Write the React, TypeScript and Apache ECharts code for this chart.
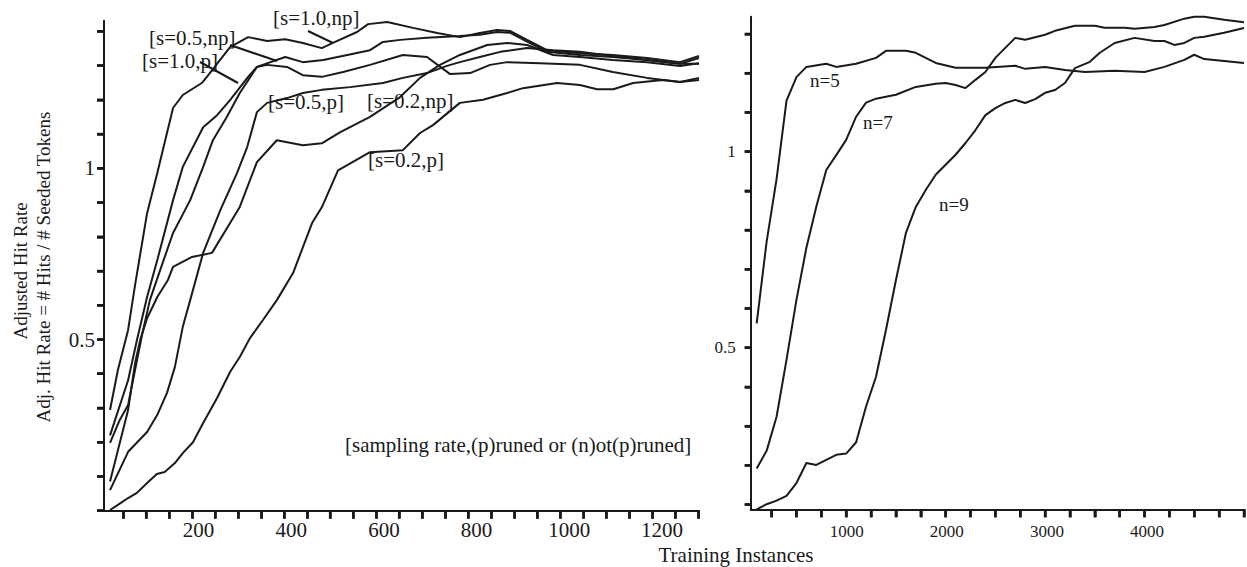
import React, { useEffect, useRef } from "react";
import * as echarts from "echarts";

const FONT = "'Liberation Serif', 'Times New Roman', serif";
const INK = "#1a1a1a";

// ---- Left panel: training instances vs adjusted hit rate ----
const S10_NP: [number, number][] = [[9,0.294],[26,0.411],[48,0.528],[63,0.659],[89,0.869],[111,0.986],[145,1.176],[166,1.214],[207,1.249],[218,1.267],[268,1.354],[307,1.383],[348,1.372],[387,1.377],[425,1.366],[466,1.351],[490,1.366],[542,1.398],[566,1.421],[607,1.427],[663,1.41],[715,1.395],[764,1.383],[807,1.395],[844,1.404],[872,1.401],[909,1.375],[952,1.345],[1023,1.336],[1094,1.331],[1168,1.322],[1239,1.31],[1280,1.328]];
const S05_NP: [number, number][] = [[9,0.22],[48,0.381],[67,0.498],[89,0.624],[111,0.732],[145,0.907],[166,1.004],[210,1.12],[240,1.155],[268,1.199],[307,1.267],[326,1.296],[387,1.325],[425,1.31],[469,1.316],[521,1.331],[570,1.345],[598,1.369],[635,1.375],[693,1.381],[764,1.386],[807,1.39],[844,1.398],[872,1.396],[909,1.37],[952,1.34],[1023,1.331],[1094,1.325],[1168,1.316],[1239,1.305],[1280,1.305]];
const S10_P: [number, number][] = [[9,0.198],[30,0.265],[48,0.309],[63,0.411],[78,0.513],[95,0.615],[117,0.702],[145,0.811],[182,0.907],[210,1.004],[231,1.082],[261,1.15],[289,1.22],[326,1.296],[348,1.302],[391,1.296],[425,1.272],[466,1.267],[512,1.281],[570,1.302],[641,1.331],[693,1.325],[743,1.275],[786,1.278],[829,1.302],[866,1.31],[937,1.307],[1023,1.302],[1094,1.281],[1168,1.264],[1239,1.252],[1280,1.258]];
const S05_P: [number, number][] = [[9,0.06],[48,0.172],[89,0.23],[111,0.28],[132,0.344],[149,0.42],[166,0.537],[182,0.615],[210,0.753],[247,0.878],[283,0.986],[305,1.062],[326,1.164],[348,1.191],[391,1.205],[425,1.22],[466,1.229],[527,1.237],[598,1.249],[641,1.264],[693,1.278],[736,1.299],[764,1.31],[807,1.325],[851,1.34],[909,1.351],[965,1.345],[1023,1.34],[1094,1.328],[1168,1.316],[1239,1.305],[1280,1.322]];
const S02_NP: [number, number][] = [[9,0.085],[48,0.294],[63,0.431],[74,0.498],[89,0.562],[111,0.624],[134,0.674],[145,0.712],[186,0.741],[229,0.753],[289,0.887],[326,1.018],[369,1.082],[425,1.067],[466,1.073],[505,1.105],[570,1.15],[635,1.208],[678,1.264],[721,1.302],[764,1.331],[823,1.36],[866,1.366],[909,1.36],[965,1.331],[1023,1.325],[1094,1.316],[1168,1.31],[1239,1.299],[1280,1.307]];
const S02_P: [number, number][] = [[9,0.002],[26,0.017],[48,0.037],[67,0.052],[89,0.081],[110,0.107],[127,0.113],[149,0.139],[166,0.168],[188,0.2],[210,0.256],[240,0.329],[268,0.405],[289,0.449],[311,0.504],[339,0.557],[369,0.615],[404,0.694],[445,0.84],[466,0.886],[501,0.994],[570,1.047],[641,1.053],[678,1.103],[706,1.126],[764,1.191],[814,1.2],[866,1.22],[900,1.234],[974,1.249],[1023,1.243],[1060,1.231],[1095,1.231],[1138,1.249],[1202,1.258],[1239,1.252],[1280,1.264]];

const LEFT_X_TICKS = [38,87,137,187,236,286,336,385,435,484,534,584,633,683,733,782,832,882,931,981,1031,1080,1130,1180,1229,1279];
const LEFT_X_LABELS = [200, 400, 600, 800, 1000, 1200];
const LEFT_Y_TICKS = [0,0.1,0.2,0.3,0.4,0.5,0.6,0.7,0.8,0.9,1,1.1,1.2,1.3,1.4];
const LEFT_Y_LABELS = [0.5, 1];

// ---- Right panel: window size n ----
const N5: [number, number][] = [[100,0.562],[200,0.77],[300,0.93],[400,1.13],[500,1.19],[600,1.216],[800,1.224],[900,1.216],[1100,1.224],[1300,1.239],[1400,1.257],[1600,1.257],[1700,1.252],[1900,1.226],[2100,1.214],[2400,1.214],[2700,1.219],[2800,1.211],[3000,1.216],[3200,1.208],[3400,1.203],[3700,1.206],[4000,1.203],[4200,1.216],[4400,1.234],[4500,1.247],[4600,1.236],[4800,1.231],[5000,1.226]];
const N7: [number, number][] = [[100,0.192],[200,0.237],[300,0.324],[400,0.469],[500,0.622],[600,0.755],[700,0.86],[800,0.953],[900,0.991],[1000,1.03],[1100,1.089],[1200,1.125],[1300,1.135],[1400,1.14],[1500,1.145],[1700,1.165],[1900,1.173],[2000,1.175],[2100,1.17],[2200,1.162],[2300,1.183],[2400,1.203],[2500,1.239],[2700,1.29],[2800,1.285],[3000,1.298],[3100,1.308],[3300,1.321],[3500,1.321],[3600,1.316],[3800,1.316],[3900,1.313],[4100,1.318],[4200,1.323],[4400,1.339],[4500,1.344],[4600,1.344],[4800,1.336],[5000,1.33]];
const N9: [number, number][] = [[100,0.088],[200,0.101],[300,0.11],[400,0.122],[500,0.155],[600,0.206],[700,0.201],[800,0.214],[900,0.227],[1000,0.23],[1100,0.259],[1200,0.35],[1300,0.426],[1400,0.545],[1500,0.672],[1600,0.792],[1700,0.859],[1800,0.902],[1900,0.941],[2100,0.992],[2200,1.022],[2300,1.055],[2400,1.093],[2500,1.111],[2600,1.124],[2700,1.132],[2800,1.124],[2900,1.134],[3000,1.15],[3100,1.157],[3200,1.175],[3300,1.213],[3450,1.229],[3550,1.252],[3700,1.277],[3900,1.29],[4100,1.282],[4200,1.282],[4300,1.272],[4400,1.277],[4500,1.29],[4600,1.293],[4800,1.303],[5000,1.315]];

const RIGHT_X_TICKS = [250,500,750,1000,1250,1500,1750,2000,2250,2500,2750,3000,3250,3500,3750,4000,4250,4500,4750,5000];
const RIGHT_X_LABELS = [1000, 2000, 3000, 4000];
const RIGHT_Y_TICKS = [0.1,0.2,0.3,0.4,0.5,0.6,0.7,0.8,0.9,1,1.1,1.2,1.3];
const RIGHT_Y_LABELS = [0.5, 1];

const LEFT_SERIES: [string, [number, number][]][] = [
  ["[s=1.0,np]", S10_NP],
  ["[s=0.5,np]", S05_NP],
  ["[s=1.0,p]", S10_P],
  ["[s=0.5,p]", S05_P],
  ["[s=0.2,np]", S02_NP],
  ["[s=0.2,p]", S02_P],
];
const RIGHT_SERIES: [string, [number, number][]][] = [
  ["n=5", N5],
  ["n=7", N7],
  ["n=9", N9],
];

const X_TITLE = "Training Instances";
const Y_TITLE_1 = "Adjusted Hit Rate";
const Y_TITLE_2 = "Adj. Hit Rate = # Hits / # Seeded Tokens";
const NOTE = "[sampling rate,(p)runed or (n)ot(p)runed]";

const L_XMIN = -4, L_XMAX = 1280, L_YMIN = 0, L_YMAX = 1.431;
const R_XMIN = 40, R_XMAX = 5000, R_YMIN = 0.088, R_YMAX = 1.344;

const near = (list: number[], v: number) => list.some((t) => Math.abs(t - v) < 1e-6);

function mainAxis(gridIndex: number, min: number, max: number, ticks: number[], len: number) {
  return {
    gridIndex, type: "value", min, max,
    axisLine: { show: true, onZero: false, lineStyle: { color: INK, width: 2 } },
    axisTick: { show: true, length: len, customValues: ticks, lineStyle: { color: INK, width: 2.5 } },
    axisLabel: { show: true, customValues: ticks, formatter: () => "" },
    splitLine: { show: false },
  };
}
function labelAxis(gridIndex: number, min: number, max: number, interval: number, labels: number[], size: number, margin: number) {
  return {
    gridIndex, type: "value", min, max, interval,
    axisLine: { show: false }, axisTick: { show: false }, splitLine: { show: false },
    axisLabel: {
      color: INK, fontFamily: FONT, fontSize: size, margin, showMinLabel: false, showMaxLabel: false,
      formatter: (v: number) => (near(labels, v) ? String(Math.round(v * 10) / 10) : ""),
    },
  };
}
const hidden = (gridIndex: number) => ({ gridIndex, type: "value", show: false, min: 0, max: 1 });

export default function App() {
  const ref = useRef<HTMLDivElement>(null);
  useEffect(() => {
    if (!ref.current) return;
    const chart = echarts.init(ref.current, undefined, { renderer: "svg" });
    const lineStyle = { color: INK, width: 2 };
    const txt = (text: string, x: number, y: number, size: number, extra: any = {}) => ({
      type: "text", x, y, ...extra,
      style: { text, fill: INK, fontFamily: FONT, fontSize: size, align: "left", verticalAlign: "middle", ...(extra.style || {}) },
    });
    const seg = (x1: number, y1: number, x2: number, y2: number, w = 2) => ({
      type: "line", shape: { x1, y1, x2, y2 }, style: { stroke: INK, lineWidth: w },
    });
    const baseGraphics = [
      txt(Y_TITLE_1, 20, 271, 19, { rotation: Math.PI / 2, style: { align: "center" } }),
      txt(Y_TITLE_2, 43, 267, 19, { rotation: Math.PI / 2, style: { align: "center" } }),
      txt(X_TITLE, 736, 555, 21, { style: { align: "center" } }),
      txt(LEFT_SERIES[0][0], 273, 18, 21),
      txt(LEFT_SERIES[1][0], 149, 38, 21),
      txt(LEFT_SERIES[2][0], 142, 61, 21),
      txt(LEFT_SERIES[3][0], 268, 102, 21),
      txt(LEFT_SERIES[4][0], 367, 101, 21),
      txt(LEFT_SERIES[5][0], 368, 160, 21),
      txt(NOTE, 345, 445, 21),
      seg(308, 31, 333, 43),
      seg(230, 45, 277, 61),
      seg(200, 62, 238, 83),
      txt(RIGHT_SERIES[0][0], 810, 80, 19),
      txt(RIGHT_SERIES[1][0], 863, 122, 19),
      txt(RIGHT_SERIES[2][0], 939, 204, 19),
    ];
    chart.setOption({
      animation: false,
      grid: [
        { left: 104, top: 20.7, width: 595, height: 490 },
        { left: 750.7, top: 16.7, width: 496.3, height: 492.6 },
        { left: 105.85, top: 20.7, width: 593.15, height: 490 },
        { left: 104, top: 31.34, width: 595, height: 479.36 },
        { left: 746.7, top: 16.7, width: 500.3, height: 492.6 },
        { left: 750.7, top: 34.0, width: 496.3, height: 470.6 },
      ],
      xAxis: [
        mainAxis(0, L_XMIN, L_XMAX, LEFT_X_TICKS, 8),
        mainAxis(1, R_XMIN, R_XMAX, RIGHT_X_TICKS, 8),
        labelAxis(2, 0, 1280, 200, LEFT_X_LABELS, 21, 9),
        hidden(3),
        labelAxis(4, 0, 5000, 1000, RIGHT_X_LABELS, 17, 14),
        hidden(5),
      ],
      yAxis: [
        mainAxis(0, L_YMIN, L_YMAX, LEFT_Y_TICKS, 7),
        mainAxis(1, R_YMIN, R_YMAX, RIGHT_Y_TICKS, 6),
        hidden(2),
        labelAxis(3, 0, 1.4, 0.1, LEFT_Y_LABELS, 21, 9),
        hidden(4),
        labelAxis(5, 0.1, 1.3, 0.1, RIGHT_Y_LABELS, 17, 15),
      ],
      series: [
        ...LEFT_SERIES.map(([name, data]) => ({
          name, type: "line", xAxisIndex: 0, yAxisIndex: 0, data,
          showSymbol: false, symbol: "none", lineStyle, silent: true, clip: false,
        })),
        ...RIGHT_SERIES.map(([name, data]) => ({
          name, type: "line", xAxisIndex: 1, yAxisIndex: 1, data,
          showSymbol: false, symbol: "none", lineStyle, silent: true, clip: false,
        })),
      ],
      graphic: { elements: baseGraphics },
    });

    // backup tick marks placed through the chart's own axis scales
    const ticks: any[] = [];
    const addX = (grid: number, values: number[], yAt: number, len: number) =>
      values.forEach((v) => {
        const p = chart.convertToPixel({ gridIndex: grid } as any, [v, yAt]) as number[];
        if (p && isFinite(p[0]) && isFinite(p[1])) ticks.push(seg(p[0], p[1], p[0], p[1] + len, 2.5));
      });
    const addY = (grid: number, values: number[], xAt: number, len: number) =>
      values.forEach((v) => {
        const p = chart.convertToPixel({ gridIndex: grid } as any, [xAt, v]) as number[];
        if (p && isFinite(p[0]) && isFinite(p[1])) ticks.push(seg(p[0] - len, p[1], p[0], p[1], 2.5));
      });
    try {
      addX(0, LEFT_X_TICKS, L_YMIN, 8);
      addY(0, LEFT_Y_TICKS, L_XMIN, 7);
      addX(1, RIGHT_X_TICKS, R_YMIN, 8);
      addY(1, RIGHT_Y_TICKS, R_XMIN, 6);
      chart.setOption({ graphic: { elements: [...baseGraphics, ...ticks] } });
    } catch (e) {
      // keep the chart as drawn
    }

    return () => chart.dispose();
  }, []);
  return (
    <div ref={ref} style={{ position: "fixed", left: 0, top: 0, width: 1247, height: 567, background: "#fff" }} />
  );
}
